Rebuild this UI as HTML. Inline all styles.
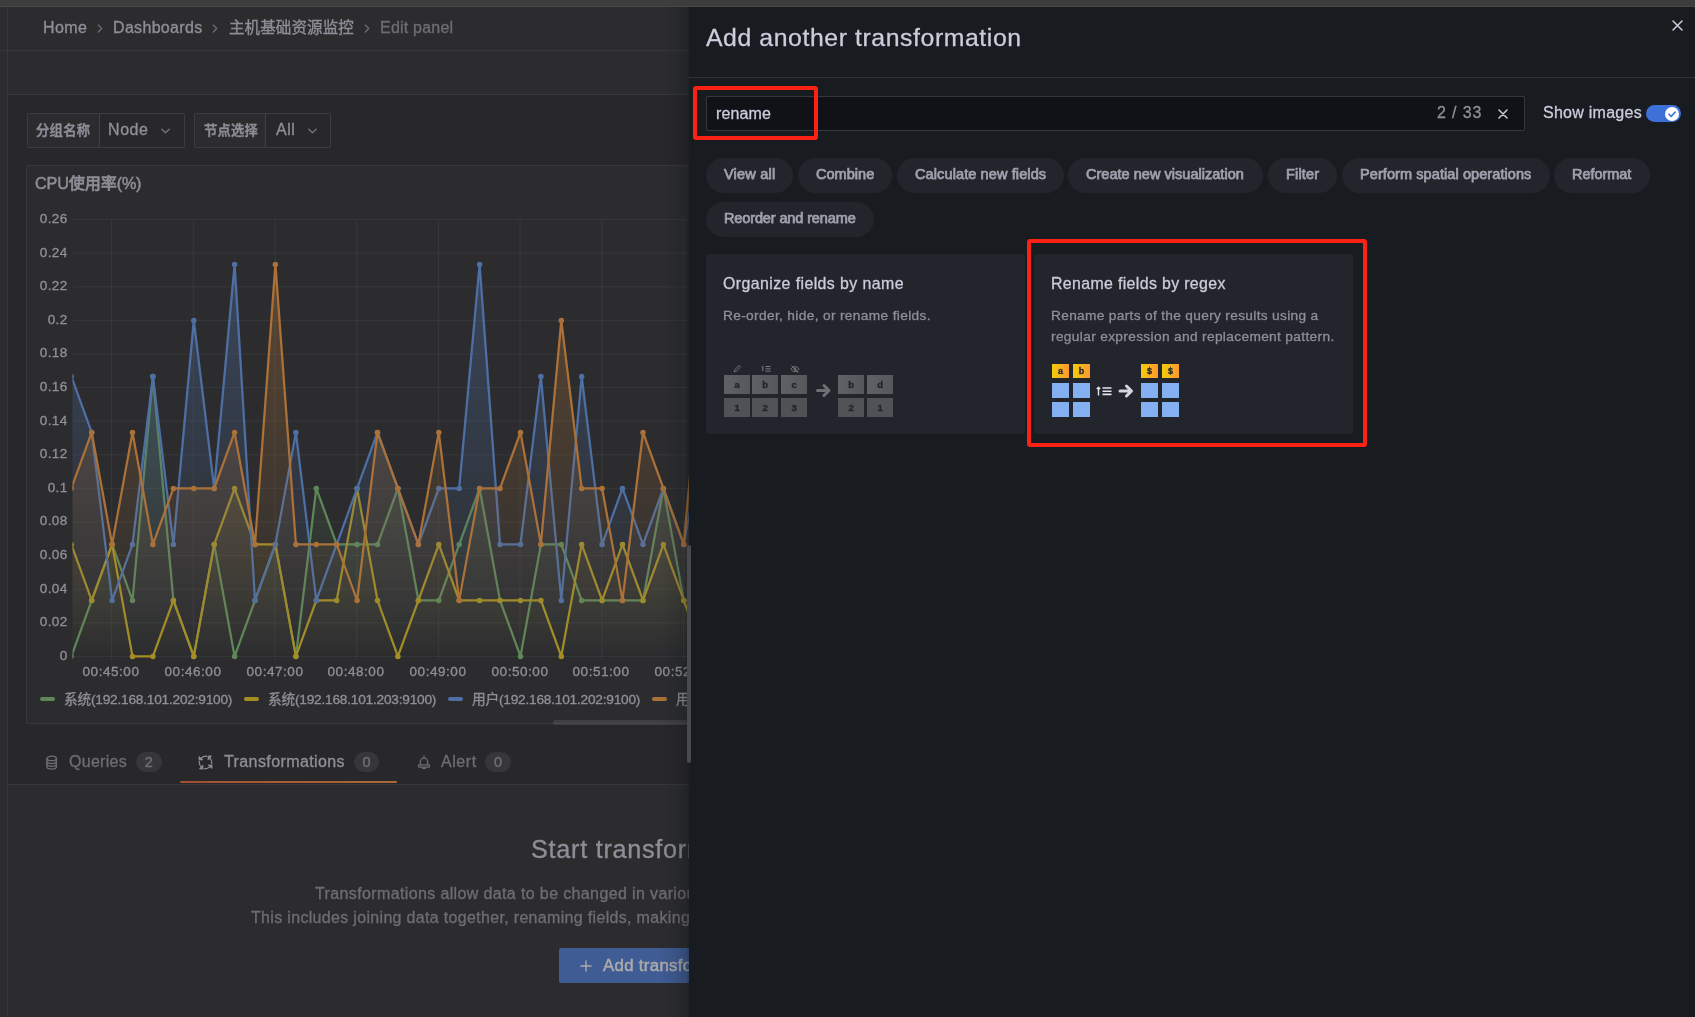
<!DOCTYPE html>
<html lang="en"><head><meta charset="utf-8"><title>Edit panel - Grafana</title>
<style>
html,body{margin:0;padding:0;background:#111217;-webkit-font-smoothing:antialiased;}
body{width:1695px;height:1017px;overflow:hidden;position:relative;font-family:"Liberation Sans", "Noto Sans CJK SC", sans-serif;}
.a{position:absolute;}
.t{position:absolute;white-space:nowrap;will-change:transform;font-family:"Liberation Sans", "Noto Sans CJK SC", sans-serif;}
#left{position:absolute;left:0;top:0;width:760px;height:1017px;background:#111217;overflow:hidden;}
#ovl{position:absolute;left:0;top:0;width:760px;height:1017px;background:rgba(68,66,66,0.45);}
#shadow{position:absolute;left:659px;top:0;width:30px;height:1017px;background:linear-gradient(90deg,rgba(12,16,17,0),rgba(12,16,17,0.1) 50%,rgba(12,16,17,0.24) 90%,rgba(14,17,20,0.42));}
#drawer{position:absolute;left:689px;top:0;width:1006px;height:1017px;background:#181b1f;}
#topbar{position:absolute;left:0;top:0;width:1695px;height:7px;background:linear-gradient(#3d3d3d,#3d3d3d 5.500px,#474948 6px,#474948 6.600px,#2b2c2c 7px);}
.varbox{box-sizing:border-box;border:1px solid rgba(204,204,220,0.2);border-radius:2px;background:#111217;}
.varlab{height:100%;background:#181b1f;border-right:1px solid rgba(204,204,220,0.2);border-radius:2px 0 0 2px;}
.panel{box-sizing:border-box;border:1px solid rgba(204,204,220,0.12);border-radius:3px;background:#181b1f;}
.yl{-webkit-text-stroke:0.300px rgb(204,204,220);left:0;width:67.500px;text-align:right;font-size:13.500px;line-height:18px;color:rgb(204,204,220);letter-spacing:0.350px;}
.xl{-webkit-text-stroke:0.300px rgb(204,204,220);top:663px;width:80px;text-align:center;font-size:13.500px;line-height:18px;color:rgb(204,204,220);letter-spacing:0.550px;}
.badge{will-change:transform;border-radius:10px;background:rgba(204,204,220,0.15);color:rgb(142,143,155);font-size:14.500px;font-weight:400;-webkit-text-stroke:0.450px rgb(142,143,155);line-height:20.500px;text-align:center;}
.chip{height:34.800px;border-radius:18px;background:#22252b;}
.card{border-radius:2px;background:#22252b;}
.cell{will-change:transform;width:26.400px;height:19px;background:#505256;color:#24262b;-webkit-text-stroke:0.350px #24262b;font-size:9.500px;font-weight:700;line-height:19px;text-align:center;}
.cell.hd{background:linear-gradient(90deg,#5e6165,#55575b);}
.ycell{will-change:transform;width:17.200px;height:14.400px;background:linear-gradient(90deg,#F2CC0C,#FF9830);color:#1f2329;-webkit-text-stroke:0.300px #1f2329;font-size:9px;font-weight:700;line-height:14px;text-align:center;}
.bcell{width:17.200px;height:15.200px;background:#84aff1;}
.red{box-sizing:border-box;border:4px solid #fb2114;border-radius:3px;}
svg.chart{position:absolute;}
</style></head><body>
<div id="left">
<div class="a" style="left:0;top:0;width:8px;height:1017px;background:#181b1f;border-right:1px solid rgba(204,204,220,0.12);box-sizing:border-box"></div>
<div class="a" style="left:0px;top:7px;width:760px;height:43px;background:#181b1f;border-bottom:1px solid rgba(204,204,220,0.12)"></div><div class="a" style="left:7px;top:7px;width:1px;height:43px;background:rgba(204,204,220,0.12)"></div>
<div class="a" style="left:8px;top:51px;width:760px;height:43px;background:#181b1f;border-bottom:1px solid rgba(204,204,220,0.12)"></div>
<span id="bc1" class="t" style="left:42.70px;top:17.10px;font-size:16px;line-height:22px;font-weight:400;color:rgb(204,204,220);letter-spacing:0.371px;-webkit-text-stroke:0.3px rgb(204,204,220);">Home</span>
<span id="bc2" class="t" style="left:113.10px;top:17.10px;font-size:16px;line-height:22px;font-weight:400;color:rgb(204,204,220);letter-spacing:0.324px;-webkit-text-stroke:0.3px rgb(204,204,220);">Dashboards</span>
<span id="bc3" class="t" style="left:228.60px;top:16.60px;font-size:15.5px;line-height:22px;font-weight:400;color:rgb(204,204,220);letter-spacing:0.114px;-webkit-text-stroke:0.3px rgb(204,204,220);">主机基础资源监控</span>
<span id="bc4" class="t" style="left:379.70px;top:17.10px;font-size:16px;line-height:22px;font-weight:400;color:rgb(142,143,155);letter-spacing:0.214px;-webkit-text-stroke:0.3px rgb(142,143,155);">Edit panel</span>
<svg class="a" style="left:95.6px;top:22.5px" width="8" height="11" viewBox="0 0 8 11"><path d="M2.300 2l3.400 3.500-3.400 3.500" fill="none" stroke="rgba(204,204,220,0.65)" stroke-width="1.300" stroke-linecap="round" stroke-linejoin="round"/></svg>
<svg class="a" style="left:211.3px;top:22.5px" width="8" height="11" viewBox="0 0 8 11"><path d="M2.300 2l3.400 3.500-3.400 3.500" fill="none" stroke="rgba(204,204,220,0.65)" stroke-width="1.300" stroke-linecap="round" stroke-linejoin="round"/></svg>
<svg class="a" style="left:362.6px;top:22.5px" width="8" height="11" viewBox="0 0 8 11"><path d="M2.300 2l3.400 3.500-3.400 3.500" fill="none" stroke="rgba(204,204,220,0.65)" stroke-width="1.300" stroke-linecap="round" stroke-linejoin="round"/></svg>
<div class="a varbox" style="left:27.2px;top:113px;width:157.7px;height:35px"><div class="varlab" style="width:70.4px"></div></div>
<span id="v1l" class="t" style="left:35.70px;top:120.50px;font-size:13.3px;line-height:19px;font-weight:500;color:rgb(204,204,220);letter-spacing:0.266px;-webkit-text-stroke:0.45px rgb(204,204,220);">分组名称</span>
<span id="v1v" class="t" style="left:108.20px;top:118.50px;font-size:16px;line-height:22px;font-weight:400;color:rgb(204,204,220);letter-spacing:0.579px;-webkit-text-stroke:0.3px rgb(204,204,220);">Node</span>
<svg class="a" style="left:160.1px;top:126.500px" width="11" height="8" viewBox="0 0 11 8"><path d="M1.800 2.200l3.700 3.600 3.700-3.600" fill="none" stroke="rgba(204,204,220,0.75)" stroke-width="1.300" stroke-linecap="round" stroke-linejoin="round"/></svg>
<div class="a varbox" style="left:194.3px;top:113px;width:136.4px;height:35px"><div class="varlab" style="width:70.2px"></div></div>
<span id="v2l" class="t" style="left:203.80px;top:120.50px;font-size:13.3px;line-height:19px;font-weight:500;color:rgb(204,204,220);letter-spacing:0.234px;-webkit-text-stroke:0.45px rgb(204,204,220);">节点选择</span>
<span id="v2v" class="t" style="left:275.80px;top:118.50px;font-size:16px;line-height:22px;font-weight:400;color:rgb(204,204,220);letter-spacing:0.554px;-webkit-text-stroke:0.3px rgb(204,204,220);">All</span>
<svg class="a" style="left:307.1px;top:126.500px" width="11" height="8" viewBox="0 0 11 8"><path d="M1.800 2.200l3.700 3.600 3.700-3.600" fill="none" stroke="rgba(204,204,220,0.75)" stroke-width="1.300" stroke-linecap="round" stroke-linejoin="round"/></svg>
<div class="a panel" style="left:26px;top:165px;width:900px;height:559px"></div>
<span id="ptitle" class="t" style="left:35.20px;top:171.80px;font-size:16.2px;line-height:23px;font-weight:500;color:rgb(204,204,220);letter-spacing:-0.178px;-webkit-text-stroke:0.45px rgb(204,204,220);">CPU使用率(%)</span>
<svg class="chart" width="1000" height="520" viewBox="0 200 1000 520" style="left:0;top:200px">
<defs>
<linearGradient id="grg" gradientUnits="userSpaceOnUse" x1="0" y1="219.6" x2="0" y2="656.4"><stop offset="0" stop-color="#73BF69" stop-opacity="0.42"/><stop offset="1" stop-color="#73BF69" stop-opacity="0"/></linearGradient>
<linearGradient id="gry" gradientUnits="userSpaceOnUse" x1="0" y1="219.6" x2="0" y2="656.4"><stop offset="0" stop-color="#F2CC0C" stop-opacity="0.42"/><stop offset="1" stop-color="#F2CC0C" stop-opacity="0"/></linearGradient>
<linearGradient id="grb" gradientUnits="userSpaceOnUse" x1="0" y1="219.6" x2="0" y2="656.4"><stop offset="0" stop-color="#5794F2" stop-opacity="0.42"/><stop offset="1" stop-color="#5794F2" stop-opacity="0"/></linearGradient>
<linearGradient id="gro" gradientUnits="userSpaceOnUse" x1="0" y1="219.6" x2="0" y2="656.4"><stop offset="0" stop-color="#FF9830" stop-opacity="0.42"/><stop offset="1" stop-color="#FF9830" stop-opacity="0"/></linearGradient>
<clipPath id="plotclip"><rect x="72.5" y="215.6" width="900" height="444.8"/></clipPath>
</defs>
<path d="M73.5 656.40H1000M73.5 622.80H1000M73.5 589.20H1000M73.5 555.60H1000M73.5 522.00H1000M73.5 488.40H1000M73.5 454.80H1000M73.5 421.20H1000M73.5 387.60H1000M73.5 354.00H1000M73.5 320.40H1000M73.5 286.80H1000M73.5 253.20H1000M73.5 219.60H1000M111.70 219.6V660.4M193.37 219.6V660.4M275.04 219.6V660.4M356.71 219.6V660.4M438.38 219.6V660.4M520.05 219.6V660.4M601.72 219.6V660.4M683.39 219.6V660.4M765.06 219.6V660.4M846.73 219.6V660.4M928.40 219.6V660.4" stroke="rgba(240,250,255,0.09)" stroke-width="1" fill="none"/>
<g clip-path="url(#plotclip)">
<path d="M71.3 656.4L91.7 600.4L112.1 544.4L132.5 600.4L152.9 376.4L173.4 600.4L193.8 656.4L214.2 544.4L234.6 656.4L255.0 600.4L275.4 544.4L295.9 656.4L316.3 488.4L336.7 544.4L357.1 544.4L377.5 544.4L397.9 488.4L418.4 600.4L438.8 600.4L459.2 544.4L479.6 488.4L500.0 600.4L520.5 656.4L540.9 544.4L561.3 544.4L581.7 600.4L602.1 600.4L622.5 600.4L643.0 600.4L663.4 488.4L683.8 600.4L704.2 656.4L724.6 600.4L724.6 656.4L71.3 656.4Z" fill="url(#grg)" stroke="none"/>
<path d="M71.3 656.4L91.7 600.4L112.1 544.4L132.5 600.4L152.9 376.4L173.4 600.4L193.8 656.4L214.2 544.4L234.6 656.4L255.0 600.4L275.4 544.4L295.9 656.4L316.3 488.4L336.7 544.4L357.1 544.4L377.5 544.4L397.9 488.4L418.4 600.4L438.8 600.4L459.2 544.4L479.6 488.4L500.0 600.4L520.5 656.4L540.9 544.4L561.3 544.4L581.7 600.4L602.1 600.4L622.5 600.4L643.0 600.4L663.4 488.4L683.8 600.4L704.2 656.4L724.6 600.4" fill="none" stroke="#73BF69" stroke-width="2.250" stroke-linejoin="round"/>
<g fill="#73BF69"><circle cx="71.3" cy="656.4" r="2.750"/><circle cx="91.7" cy="600.4" r="2.750"/><circle cx="112.1" cy="544.4" r="2.750"/><circle cx="132.5" cy="600.4" r="2.750"/><circle cx="152.9" cy="376.4" r="2.750"/><circle cx="173.4" cy="600.4" r="2.750"/><circle cx="193.8" cy="656.4" r="2.750"/><circle cx="214.2" cy="544.4" r="2.750"/><circle cx="234.6" cy="656.4" r="2.750"/><circle cx="255.0" cy="600.4" r="2.750"/><circle cx="275.4" cy="544.4" r="2.750"/><circle cx="295.9" cy="656.4" r="2.750"/><circle cx="316.3" cy="488.4" r="2.750"/><circle cx="336.7" cy="544.4" r="2.750"/><circle cx="357.1" cy="544.4" r="2.750"/><circle cx="377.5" cy="544.4" r="2.750"/><circle cx="397.9" cy="488.4" r="2.750"/><circle cx="418.4" cy="600.4" r="2.750"/><circle cx="438.8" cy="600.4" r="2.750"/><circle cx="459.2" cy="544.4" r="2.750"/><circle cx="479.6" cy="488.4" r="2.750"/><circle cx="500.0" cy="600.4" r="2.750"/><circle cx="520.5" cy="656.4" r="2.750"/><circle cx="540.9" cy="544.4" r="2.750"/><circle cx="561.3" cy="544.4" r="2.750"/><circle cx="581.7" cy="600.4" r="2.750"/><circle cx="602.1" cy="600.4" r="2.750"/><circle cx="622.5" cy="600.4" r="2.750"/><circle cx="643.0" cy="600.4" r="2.750"/><circle cx="663.4" cy="488.4" r="2.750"/><circle cx="683.8" cy="600.4" r="2.750"/><circle cx="704.2" cy="656.4" r="2.750"/><circle cx="724.6" cy="600.4" r="2.750"/></g>
<path d="M71.3 544.4L91.7 600.4L112.1 544.4L132.5 656.4L152.9 656.4L173.4 600.4L193.8 656.4L214.2 544.4L234.6 488.4L255.0 544.4L275.4 544.4L295.9 656.4L316.3 600.4L336.7 600.4L357.1 488.4L377.5 600.4L397.9 656.4L418.4 600.4L438.8 544.4L459.2 600.4L479.6 600.4L500.0 600.4L520.5 600.4L540.9 600.4L561.3 656.4L581.7 544.4L602.1 600.4L622.5 544.4L643.0 600.4L663.4 544.4L683.8 600.4L704.2 656.4L724.6 600.4L724.6 656.4L71.3 656.4Z" fill="url(#gry)" stroke="none"/>
<path d="M71.3 544.4L91.7 600.4L112.1 544.4L132.5 656.4L152.9 656.4L173.4 600.4L193.8 656.4L214.2 544.4L234.6 488.4L255.0 544.4L275.4 544.4L295.9 656.4L316.3 600.4L336.7 600.4L357.1 488.4L377.5 600.4L397.9 656.4L418.4 600.4L438.8 544.4L459.2 600.4L479.6 600.4L500.0 600.4L520.5 600.4L540.9 600.4L561.3 656.4L581.7 544.4L602.1 600.4L622.5 544.4L643.0 600.4L663.4 544.4L683.8 600.4L704.2 656.4L724.6 600.4" fill="none" stroke="#F2CC0C" stroke-width="2.250" stroke-linejoin="round"/>
<g fill="#F2CC0C"><circle cx="71.3" cy="544.4" r="2.750"/><circle cx="91.7" cy="600.4" r="2.750"/><circle cx="112.1" cy="544.4" r="2.750"/><circle cx="132.5" cy="656.4" r="2.750"/><circle cx="152.9" cy="656.4" r="2.750"/><circle cx="173.4" cy="600.4" r="2.750"/><circle cx="193.8" cy="656.4" r="2.750"/><circle cx="214.2" cy="544.4" r="2.750"/><circle cx="234.6" cy="488.4" r="2.750"/><circle cx="255.0" cy="544.4" r="2.750"/><circle cx="275.4" cy="544.4" r="2.750"/><circle cx="295.9" cy="656.4" r="2.750"/><circle cx="316.3" cy="600.4" r="2.750"/><circle cx="336.7" cy="600.4" r="2.750"/><circle cx="357.1" cy="488.4" r="2.750"/><circle cx="377.5" cy="600.4" r="2.750"/><circle cx="397.9" cy="656.4" r="2.750"/><circle cx="418.4" cy="600.4" r="2.750"/><circle cx="438.8" cy="544.4" r="2.750"/><circle cx="459.2" cy="600.4" r="2.750"/><circle cx="479.6" cy="600.4" r="2.750"/><circle cx="500.0" cy="600.4" r="2.750"/><circle cx="520.5" cy="600.4" r="2.750"/><circle cx="540.9" cy="600.4" r="2.750"/><circle cx="561.3" cy="656.4" r="2.750"/><circle cx="581.7" cy="544.4" r="2.750"/><circle cx="602.1" cy="600.4" r="2.750"/><circle cx="622.5" cy="544.4" r="2.750"/><circle cx="643.0" cy="600.4" r="2.750"/><circle cx="663.4" cy="544.4" r="2.750"/><circle cx="683.8" cy="600.4" r="2.750"/><circle cx="704.2" cy="656.4" r="2.750"/><circle cx="724.6" cy="600.4" r="2.750"/></g>
<path d="M71.3 376.4L91.7 432.4L112.1 600.4L132.5 544.4L152.9 376.4L173.4 544.4L193.8 320.4L214.2 488.4L234.6 264.4L255.0 600.4L275.4 544.4L295.9 432.4L316.3 600.4L336.7 544.4L357.1 488.4L377.5 432.4L397.9 488.4L418.4 544.4L438.8 488.4L459.2 488.4L479.6 264.4L500.0 544.4L520.5 544.4L540.9 376.4L561.3 600.4L581.7 376.4L602.1 544.4L622.5 488.4L643.0 544.4L663.4 488.4L683.8 544.4L704.2 432.4L724.6 488.4L724.6 656.4L71.3 656.4Z" fill="url(#grb)" stroke="none"/>
<path d="M71.3 376.4L91.7 432.4L112.1 600.4L132.5 544.4L152.9 376.4L173.4 544.4L193.8 320.4L214.2 488.4L234.6 264.4L255.0 600.4L275.4 544.4L295.9 432.4L316.3 600.4L336.7 544.4L357.1 488.4L377.5 432.4L397.9 488.4L418.4 544.4L438.8 488.4L459.2 488.4L479.6 264.4L500.0 544.4L520.5 544.4L540.9 376.4L561.3 600.4L581.7 376.4L602.1 544.4L622.5 488.4L643.0 544.4L663.4 488.4L683.8 544.4L704.2 432.4L724.6 488.4" fill="none" stroke="#5794F2" stroke-width="2.250" stroke-linejoin="round"/>
<g fill="#5794F2"><circle cx="71.3" cy="376.4" r="2.750"/><circle cx="91.7" cy="432.4" r="2.750"/><circle cx="112.1" cy="600.4" r="2.750"/><circle cx="132.5" cy="544.4" r="2.750"/><circle cx="152.9" cy="376.4" r="2.750"/><circle cx="173.4" cy="544.4" r="2.750"/><circle cx="193.8" cy="320.4" r="2.750"/><circle cx="214.2" cy="488.4" r="2.750"/><circle cx="234.6" cy="264.4" r="2.750"/><circle cx="255.0" cy="600.4" r="2.750"/><circle cx="275.4" cy="544.4" r="2.750"/><circle cx="295.9" cy="432.4" r="2.750"/><circle cx="316.3" cy="600.4" r="2.750"/><circle cx="336.7" cy="544.4" r="2.750"/><circle cx="357.1" cy="488.4" r="2.750"/><circle cx="377.5" cy="432.4" r="2.750"/><circle cx="397.9" cy="488.4" r="2.750"/><circle cx="418.4" cy="544.4" r="2.750"/><circle cx="438.8" cy="488.4" r="2.750"/><circle cx="459.2" cy="488.4" r="2.750"/><circle cx="479.6" cy="264.4" r="2.750"/><circle cx="500.0" cy="544.4" r="2.750"/><circle cx="520.5" cy="544.4" r="2.750"/><circle cx="540.9" cy="376.4" r="2.750"/><circle cx="561.3" cy="600.4" r="2.750"/><circle cx="581.7" cy="376.4" r="2.750"/><circle cx="602.1" cy="544.4" r="2.750"/><circle cx="622.5" cy="488.4" r="2.750"/><circle cx="643.0" cy="544.4" r="2.750"/><circle cx="663.4" cy="488.4" r="2.750"/><circle cx="683.8" cy="544.4" r="2.750"/><circle cx="704.2" cy="432.4" r="2.750"/><circle cx="724.6" cy="488.4" r="2.750"/></g>
<path d="M71.3 488.4L91.7 432.4L112.1 544.4L132.5 432.4L152.9 544.4L173.4 488.4L193.8 488.4L214.2 488.4L234.6 432.4L255.0 544.4L275.4 264.4L295.9 544.4L316.3 544.4L336.7 544.4L357.1 600.4L377.5 432.4L397.9 488.4L418.4 544.4L438.8 432.4L459.2 600.4L479.6 488.4L500.0 488.4L520.5 432.4L540.9 544.4L561.3 320.4L581.7 488.4L602.1 488.4L622.5 600.4L643.0 432.4L663.4 488.4L683.8 544.4L704.2 320.4L724.6 488.4L724.6 656.4L71.3 656.4Z" fill="url(#gro)" stroke="none"/>
<path d="M71.3 488.4L91.7 432.4L112.1 544.4L132.5 432.4L152.9 544.4L173.4 488.4L193.8 488.4L214.2 488.4L234.6 432.4L255.0 544.4L275.4 264.4L295.9 544.4L316.3 544.4L336.7 544.4L357.1 600.4L377.5 432.4L397.9 488.4L418.4 544.4L438.8 432.4L459.2 600.4L479.6 488.4L500.0 488.4L520.5 432.4L540.9 544.4L561.3 320.4L581.7 488.4L602.1 488.4L622.5 600.4L643.0 432.4L663.4 488.4L683.8 544.4L704.2 320.4L724.6 488.4" fill="none" stroke="#FF9830" stroke-width="2.250" stroke-linejoin="round"/>
<g fill="#FF9830"><circle cx="71.3" cy="488.4" r="2.750"/><circle cx="91.7" cy="432.4" r="2.750"/><circle cx="112.1" cy="544.4" r="2.750"/><circle cx="132.5" cy="432.4" r="2.750"/><circle cx="152.9" cy="544.4" r="2.750"/><circle cx="173.4" cy="488.4" r="2.750"/><circle cx="193.8" cy="488.4" r="2.750"/><circle cx="214.2" cy="488.4" r="2.750"/><circle cx="234.6" cy="432.4" r="2.750"/><circle cx="255.0" cy="544.4" r="2.750"/><circle cx="275.4" cy="264.4" r="2.750"/><circle cx="295.9" cy="544.4" r="2.750"/><circle cx="316.3" cy="544.4" r="2.750"/><circle cx="336.7" cy="544.4" r="2.750"/><circle cx="357.1" cy="600.4" r="2.750"/><circle cx="377.5" cy="432.4" r="2.750"/><circle cx="397.9" cy="488.4" r="2.750"/><circle cx="418.4" cy="544.4" r="2.750"/><circle cx="438.8" cy="432.4" r="2.750"/><circle cx="459.2" cy="600.4" r="2.750"/><circle cx="479.6" cy="488.4" r="2.750"/><circle cx="500.0" cy="488.4" r="2.750"/><circle cx="520.5" cy="432.4" r="2.750"/><circle cx="540.9" cy="544.4" r="2.750"/><circle cx="561.3" cy="320.4" r="2.750"/><circle cx="581.7" cy="488.4" r="2.750"/><circle cx="602.1" cy="488.4" r="2.750"/><circle cx="622.5" cy="600.4" r="2.750"/><circle cx="643.0" cy="432.4" r="2.750"/><circle cx="663.4" cy="488.4" r="2.750"/><circle cx="683.8" cy="544.4" r="2.750"/><circle cx="704.2" cy="320.4" r="2.750"/><circle cx="724.6" cy="488.4" r="2.750"/></g>
</g></svg>
<span class="t yl" style="top:646.7px">0</span>
<span class="t yl" style="top:613.1px">0.02</span>
<span class="t yl" style="top:579.5px">0.04</span>
<span class="t yl" style="top:545.9px">0.06</span>
<span class="t yl" style="top:512.3px">0.08</span>
<span class="t yl" style="top:478.7px">0.1</span>
<span class="t yl" style="top:445.1px">0.12</span>
<span class="t yl" style="top:411.5px">0.14</span>
<span class="t yl" style="top:377.9px">0.16</span>
<span class="t yl" style="top:344.3px">0.18</span>
<span class="t yl" style="top:310.7px">0.2</span>
<span class="t yl" style="top:277.1px">0.22</span>
<span class="t yl" style="top:243.5px">0.24</span>
<span class="t yl" style="top:209.9px">0.26</span>
<span class="t xl" style="left:71.4px">00:45:00</span>
<span class="t xl" style="left:153.1px">00:46:00</span>
<span class="t xl" style="left:234.7px">00:47:00</span>
<span class="t xl" style="left:316.4px">00:48:00</span>
<span class="t xl" style="left:398.1px">00:49:00</span>
<span class="t xl" style="left:479.8px">00:50:00</span>
<span class="t xl" style="left:561.4px">00:51:00</span>
<span class="t xl" style="left:643.1px">00:52:00</span>
<div class="a" style="left:39.8px;top:697px;width:15.3px;height:4.4px;border-radius:2.2px;background:#73BF69"></div>
<span id="lg0" class="t" style="left:63.80px;top:689.80px;font-size:13.7px;line-height:19px;font-weight:400;color:rgb(204,204,220);letter-spacing:-0.222px;-webkit-text-stroke:0.3px rgb(204,204,220);">系统(192.168.101.202:9100)</span>
<div class="a" style="left:243.7px;top:697px;width:15.3px;height:4.4px;border-radius:2.2px;background:#F2CC0C"></div>
<span id="lg1" class="t" style="left:267.70px;top:689.80px;font-size:13.7px;line-height:19px;font-weight:400;color:rgb(204,204,220);letter-spacing:-0.222px;-webkit-text-stroke:0.3px rgb(204,204,220);">系统(192.168.101.203:9100)</span>
<div class="a" style="left:447.6px;top:697px;width:15.3px;height:4.4px;border-radius:2.2px;background:#5794F2"></div>
<span id="lg2" class="t" style="left:471.60px;top:689.80px;font-size:13.7px;line-height:19px;font-weight:400;color:rgb(204,204,220);letter-spacing:-0.222px;-webkit-text-stroke:0.3px rgb(204,204,220);">用户(192.168.101.202:9100)</span>
<div class="a" style="left:651.5px;top:697px;width:15.3px;height:4.4px;border-radius:2.2px;background:#FF9830"></div>
<span id="lg3" class="t" style="left:675.50px;top:689.80px;font-size:13.7px;line-height:19px;font-weight:400;color:rgb(204,204,220);letter-spacing:-0.222px;-webkit-text-stroke:0.3px rgb(204,204,220);">用户(192.168.101.203:9100)</span>
<div class="a" style="left:553px;top:720px;width:140px;height:4.500px;border-radius:2.250px;background:rgba(204,204,220,0.2)"></div>
<div class="a" style="left:8px;top:784px;width:900px;height:240px;background:#181b1f;border-top:1px solid rgba(204,204,220,0.12)"></div>
<div class="a" style="left:180px;top:780.500px;width:216.700px;height:2px;border-radius:1px;background:linear-gradient(90deg,#F05A28,#FF8833)"></div>
<span id="tab1" class="t" style="left:69.20px;top:751.00px;font-size:16px;line-height:22px;font-weight:400;color:rgb(142,143,155);letter-spacing:0.278px;-webkit-text-stroke:0.3px rgb(142,143,155);">Queries</span>
<span id="tab2" class="t" style="left:223.80px;top:751.00px;font-size:16px;line-height:22px;font-weight:400;color:rgb(204,204,220);letter-spacing:0.400px;-webkit-text-stroke:0.3px rgb(204,204,220);">Transformations</span>
<span id="tab3" class="t" style="left:441.00px;top:751.00px;font-size:16px;line-height:22px;font-weight:400;color:rgb(142,143,155);letter-spacing:0.573px;-webkit-text-stroke:0.3px rgb(142,143,155);">Alert</span>
<div class="a badge" style="left:136.0px;top:751.800px;width:25.7px;height:20px">2</div>
<div class="a badge" style="left:354.4px;top:751.800px;width:25.1px;height:20px">0</div>
<div class="a badge" style="left:485.3px;top:751.800px;width:26.1px;height:20px">0</div>
<svg class="a" style="left:45.300px;top:754.800px" width="13.300" height="15.200" viewBox="0 0 14 16" fill="none" stroke="rgb(142,143,155)" stroke-width="1.400"><ellipse cx="7" cy="3.6" rx="5" ry="2.4"/><path d="M2 3.6v8.8c0 1.3 2.2 2.4 5 2.4s5-1.1 5-2.4V3.6"/><path d="M2 6.6c0 1.3 2.2 2.4 5 2.4s5-1.1 5-2.4M2 9.6c0 1.3 2.2 2.4 5 2.4s5-1.1 5-2.4"/></svg>
<svg class="a" style="left:198.200px;top:754.900px" width="15" height="15" viewBox="0 0 15 15"><g transform="rotate(0 7.500 7.500)"><path d="M8.800 1.200C6.600 1.100 4.600 1.700 3 3.300" fill="none" stroke="rgb(204,204,220)" stroke-width="1.200" stroke-linecap="round"/><path d="M1 1.500L1 4.900L4.900 4.900z" fill="rgb(204,204,220)" stroke="rgb(204,204,220)" stroke-width="0.800" stroke-linejoin="round"/></g><g transform="rotate(-90 7.500 7.500)"><path d="M8.800 1.200C6.600 1.100 4.600 1.700 3 3.300" fill="none" stroke="rgb(204,204,220)" stroke-width="1.200" stroke-linecap="round"/><path d="M1 1.500L1 4.900L4.900 4.900z" fill="rgb(204,204,220)" stroke="rgb(204,204,220)" stroke-width="0.800" stroke-linejoin="round"/></g><g transform="rotate(-180 7.500 7.500)"><path d="M8.800 1.200C6.600 1.100 4.600 1.700 3 3.300" fill="none" stroke="rgb(204,204,220)" stroke-width="1.200" stroke-linecap="round"/><path d="M1 1.500L1 4.900L4.900 4.900z" fill="rgb(204,204,220)" stroke="rgb(204,204,220)" stroke-width="0.800" stroke-linejoin="round"/></g><g transform="rotate(-270 7.500 7.500)"><path d="M8.800 1.200C6.600 1.100 4.600 1.700 3 3.300" fill="none" stroke="rgb(204,204,220)" stroke-width="1.200" stroke-linecap="round"/><path d="M1 1.500L1 4.900L4.900 4.900z" fill="rgb(204,204,220)" stroke="rgb(204,204,220)" stroke-width="0.800" stroke-linejoin="round"/></g></svg>
<svg class="a" style="left:417px;top:755px" width="14" height="16" viewBox="0 0 14 16" fill="none" stroke="rgb(142,143,155)" stroke-width="1.300" stroke-linecap="round" stroke-linejoin="round"><path d="M3.300 9.800V6.800a3.700 3.700 0 0 1 7.400 0v3M7 0.900V2.800"/><rect x="1.500" y="9.900" width="11" height="2.300" rx="0.600"/><path d="M5.400 12.500a1.700 1.700 0 0 0 3.200 0"/></svg>
<span id="es1" class="t" style="left:530.70px;top:831.70px;font-size:25.2px;line-height:35px;font-weight:400;color:rgb(204,204,220);letter-spacing:0.742px;-webkit-text-stroke:0.3px rgb(204,204,220);">Start transforming data</span>
<span id="es2" class="t" style="left:315.20px;top:883.20px;font-size:16px;line-height:22px;font-weight:400;color:rgb(142,143,155);letter-spacing:0.371px;-webkit-text-stroke:0.3px rgb(142,143,155);">Transformations allow data to be changed in various ways before your visualization is shown.</span>
<span id="es3" class="t" style="left:250.60px;top:907.00px;font-size:16px;line-height:22px;font-weight:400;color:rgb(142,143,155);letter-spacing:0.322px;-webkit-text-stroke:0.3px rgb(142,143,155);">This includes joining data together, renaming fields, making calculations, formatting data for display, and more.</span>
<div class="a" style="left:559px;top:948px;width:190px;height:35px;border-radius:2px;background:#3d71d9"></div>
<svg class="a" style="left:580px;top:959.5px" width="12" height="12" viewBox="0 0 12 12"><path d="M6 0.5v11M0.5 6h11" stroke="#fff" stroke-width="1.4"/></svg>
<span id="btn" class="t" style="left:602.60px;top:953.70px;font-size:16.8px;line-height:24px;font-weight:500;color:#fff;letter-spacing:0.333px;-webkit-text-stroke:0.45px #fff;">Add transformation</span>
<div id="ovl"></div>
<div id="shadow"></div>
</div>
<div id="drawer"></div>
<div class="a" style="left:686.500px;top:544.500px;width:4.500px;height:218.500px;border-radius:2.250px;background:#484a50"></div>
<span id="dtitle" class="t" style="left:706.10px;top:20.00px;font-size:24.8px;line-height:35px;font-weight:400;color:rgb(204,204,220);letter-spacing:0.584px;-webkit-text-stroke:0.3px rgb(204,204,220);">Add another transformation</span>
<svg class="a" style="left:1671.5px;top:19.5px" width="11" height="11" viewBox="0 0 11 11"><path d="M1 1l9 9M10 1l-9 9" stroke="rgb(204,204,220)" stroke-width="1.5" stroke-linecap="round"/></svg>
<div class="a" style="left:689px;top:77px;width:1006px;height:1px;background:rgba(204,204,220,0.12)"></div>
<div class="a" style="left:706px;top:96.3px;width:818.5px;height:34.3px;box-sizing:border-box;border:1px solid rgba(204,204,220,0.2);border-radius:2px;background:#111217"></div>
<span id="q" class="t" style="left:715.70px;top:102.70px;font-size:16px;line-height:22px;font-weight:400;color:rgb(204,204,220);letter-spacing:0.148px;-webkit-text-stroke:0.3px rgb(204,204,220);">rename</span>
<span id="cnt" class="t" style="left:1436.60px;top:101.60px;font-size:16px;line-height:22px;font-weight:400;color:rgb(142,143,155);letter-spacing:0.854px;-webkit-text-stroke:0.3px rgb(142,143,155);">2 / 33</span>
<svg class="a" style="left:1498px;top:109.2px" width="10" height="10" viewBox="0 0 10 10"><path d="M1 1l8 8M9 1l-8 8" stroke="rgb(204,204,220)" stroke-width="1.5" stroke-linecap="round"/></svg>
<span id="simg" class="t" style="left:1542.60px;top:102.30px;font-size:16px;line-height:22px;font-weight:400;color:rgb(204,204,220);letter-spacing:0.265px;-webkit-text-stroke:0.3px rgb(204,204,220);">Show images</span>
<div class="a" style="left:1645.8px;top:105px;width:35px;height:17.200px;border-radius:9px;background:#3d71d9"></div>
<div class="a" style="left:1665.3px;top:106.600px;width:14px;height:14px;border-radius:7px;background:#fff"></div>
<svg class="a" style="left:1667.3px;top:108.6px" width="10" height="10" viewBox="0 0 10 10"><path d="M2 5.2l2.2 2.2L8.2 3" fill="none" stroke="#3d71d9" stroke-width="1.6" stroke-linecap="round" stroke-linejoin="round"/></svg>
<div class="a chip" style="left:705.7px;top:158.0px;width:87.6px"></div>
<span id="c1" class="t" style="left:723.80px;top:163.90px;font-size:14.5px;line-height:20px;font-weight:500;color:rgb(160,161,174);letter-spacing:0.213px;-webkit-text-stroke:0.45px rgb(160,161,174);-webkit-text-stroke-width:0.750px;">View all</span>
<div class="a chip" style="left:797.8px;top:158.0px;width:94.4px"></div>
<span id="c2" class="t" style="left:815.60px;top:163.90px;font-size:14.5px;line-height:20px;font-weight:500;color:rgb(160,161,174);letter-spacing:0.028px;-webkit-text-stroke:0.45px rgb(160,161,174);-webkit-text-stroke-width:0.750px;">Combine</span>
<div class="a chip" style="left:897.2px;top:158.0px;width:166.9px"></div>
<span id="c3" class="t" style="left:914.70px;top:163.90px;font-size:14.5px;line-height:20px;font-weight:500;color:rgb(160,161,174);letter-spacing:0.112px;-webkit-text-stroke:0.45px rgb(160,161,174);-webkit-text-stroke-width:0.750px;">Calculate new fields</span>
<div class="a chip" style="left:1068.3px;top:158.0px;width:194.8px"></div>
<span id="c4" class="t" style="left:1086.40px;top:163.90px;font-size:14.5px;line-height:20px;font-weight:500;color:rgb(160,161,174);letter-spacing:0.028px;-webkit-text-stroke:0.45px rgb(160,161,174);-webkit-text-stroke-width:0.750px;">Create new visualization</span>
<div class="a chip" style="left:1268.1px;top:158.0px;width:68.6px"></div>
<span id="c5" class="t" style="left:1285.60px;top:163.90px;font-size:14.5px;line-height:20px;font-weight:500;color:rgb(160,161,174);letter-spacing:0.176px;-webkit-text-stroke:0.45px rgb(160,161,174);-webkit-text-stroke-width:0.750px;">Filter</span>
<div class="a chip" style="left:1341.7px;top:158.0px;width:208.1px"></div>
<span id="c6" class="t" style="left:1359.50px;top:163.90px;font-size:14.5px;line-height:20px;font-weight:500;color:rgb(160,161,174);letter-spacing:0.085px;-webkit-text-stroke:0.45px rgb(160,161,174);-webkit-text-stroke-width:0.750px;">Perform spatial operations</span>
<div class="a chip" style="left:1553.7px;top:158.0px;width:96.5px"></div>
<span id="c7" class="t" style="left:1572.00px;top:163.90px;font-size:14.5px;line-height:20px;font-weight:500;color:rgb(160,161,174);letter-spacing:-0.049px;-webkit-text-stroke:0.45px rgb(160,161,174);-webkit-text-stroke-width:0.750px;">Reformat</span>
<div class="a chip" style="left:705.7px;top:202.2px;width:168.2px"></div>
<span id="c8" class="t" style="left:723.80px;top:208.10px;font-size:14.5px;line-height:20px;font-weight:500;color:rgb(160,161,174);letter-spacing:-0.124px;-webkit-text-stroke:0.45px rgb(160,161,174);-webkit-text-stroke-width:0.750px;">Reorder and rename</span>
<div class="a card" style="left:706px;top:254px;width:319px;height:179.5px"></div>
<div class="a card" style="left:1033.5px;top:254px;width:319.5px;height:179.5px"></div>
<span id="k1t" class="t" style="left:723.20px;top:272.80px;font-size:15.9px;line-height:22px;font-weight:400;color:rgb(204,204,220);letter-spacing:0.416px;-webkit-text-stroke:0.3px rgb(204,204,220);">Organize fields by name</span>
<span id="k1d" class="t" style="left:723.20px;top:305.50px;font-size:13.7px;line-height:19px;font-weight:400;color:rgb(142,143,155);letter-spacing:0.350px;-webkit-text-stroke:0.3px rgb(142,143,155);">Re-order, hide, or rename fields.</span>
<span id="k2t" class="t" style="left:1051.40px;top:272.80px;font-size:15.9px;line-height:22px;font-weight:400;color:rgb(204,204,220);letter-spacing:0.355px;-webkit-text-stroke:0.3px rgb(204,204,220);">Rename fields by regex</span>
<span id="k2d1" class="t" style="left:1051.40px;top:305.50px;font-size:13.7px;line-height:19px;font-weight:400;color:rgb(142,143,155);letter-spacing:0.327px;-webkit-text-stroke:0.3px rgb(142,143,155);">Rename parts of the query results using a</span>
<span id="k2d2" class="t" style="left:1051.40px;top:326.50px;font-size:13.7px;line-height:19px;font-weight:400;color:rgb(142,143,155);letter-spacing:0.348px;-webkit-text-stroke:0.3px rgb(142,143,155);">regular expression and replacement pattern.</span>
<div class="a cell hd" style="left:724.0px;top:375.0px">a</div>
<div class="a cell hd" style="left:752.3px;top:375.0px">b</div>
<div class="a cell hd" style="left:781.0px;top:375.0px">c</div>
<div class="a cell hd" style="left:838.0px;top:375.0px">b</div>
<div class="a cell hd" style="left:866.8px;top:375.0px">d</div>
<div class="a cell " style="left:724.0px;top:398.0px">1</div>
<div class="a cell " style="left:752.3px;top:398.0px">2</div>
<div class="a cell " style="left:781.0px;top:398.0px">3</div>
<div class="a cell " style="left:838.0px;top:398.0px">2</div>
<div class="a cell " style="left:866.8px;top:398.0px">1</div>
<svg class="a" style="left:815.5px;top:383px" width="15" height="15" viewBox="0 0 15 15"><path d="M1.5 7.5h11M8 2.5l5 5-5 5" fill="none" stroke="#6d6f74" stroke-width="3" stroke-linecap="round" stroke-linejoin="round"/></svg>
<svg class="a" style="left:733px;top:364px" width="9" height="9" viewBox="0 0 9 9" fill="none" stroke="#7b7d82" stroke-width="0.9"><path d="M1.2 7.8l0.5-2L6 1.5l1.5 1.5L3.2 7.3z"/></svg>
<svg class="a" style="left:760.5px;top:364px" width="10" height="9" viewBox="0 0 10 9" fill="none" stroke="#7b7d82" stroke-width="1"><path d="M0.8 3l1-0.8v5M4.5 2.5h5M4.5 4.8h5M4.5 7.1h5"/></svg>
<svg class="a" style="left:789.5px;top:363.5px" width="10" height="10" viewBox="0 0 10 10" fill="none" stroke="#7b7d82" stroke-width="0.9"><path d="M1 5.2c1-1.7 2.3-2.5 4-2.5s3 0.8 4 2.5c-1 1.7-2.3 2.5-4 2.5S2 6.900 1 5.2z"/><circle cx="5" cy="5.200" r="1.1"/><path d="M1.500 1.500l7 7.500"/></svg>
<div class="a ycell" style="left:1052.0px;top:364px">a</div>
<div class="a bcell" style="left:1052.0px;top:382.8px"></div>
<div class="a bcell" style="left:1052.0px;top:402px"></div>
<div class="a ycell" style="left:1072.8px;top:364px">b</div>
<div class="a bcell" style="left:1072.8px;top:382.8px"></div>
<div class="a bcell" style="left:1072.8px;top:402px"></div>
<div class="a ycell" style="left:1140.8px;top:364px">$</div>
<div class="a bcell" style="left:1140.8px;top:382.8px"></div>
<div class="a bcell" style="left:1140.8px;top:402px"></div>
<div class="a ycell" style="left:1161.8px;top:364px">$</div>
<div class="a bcell" style="left:1161.8px;top:382.8px"></div>
<div class="a bcell" style="left:1161.8px;top:402px"></div>
<svg class="a" style="left:1095.5px;top:386px" width="16" height="10" viewBox="0 0 16 10" fill="none" stroke="#e4e4ee" stroke-width="1.4"><path d="M2.500 9.500V1.500M0.800 3L2.500 1.200 4.200 3" stroke-linejoin="round"/><path d="M6.500 2h9M6.500 5.200h9M6.500 8.400h9" stroke-width="1.6"/></svg>
<svg class="a" style="left:1118px;top:382.5px" width="16" height="16" viewBox="0 0 16 16"><path d="M2 8h11M8.500 3l5 5-5 5" fill="none" stroke="#d5d5e2" stroke-width="3" stroke-linecap="round" stroke-linejoin="round"/></svg>
<div class="a red" style="left:693.3px;top:86px;width:124.700px;height:53.8px"></div>
<div class="a red" style="left:1027.200px;top:239px;width:340px;height:207.700px"></div>
<div id="topbar"></div>
</body></html>
